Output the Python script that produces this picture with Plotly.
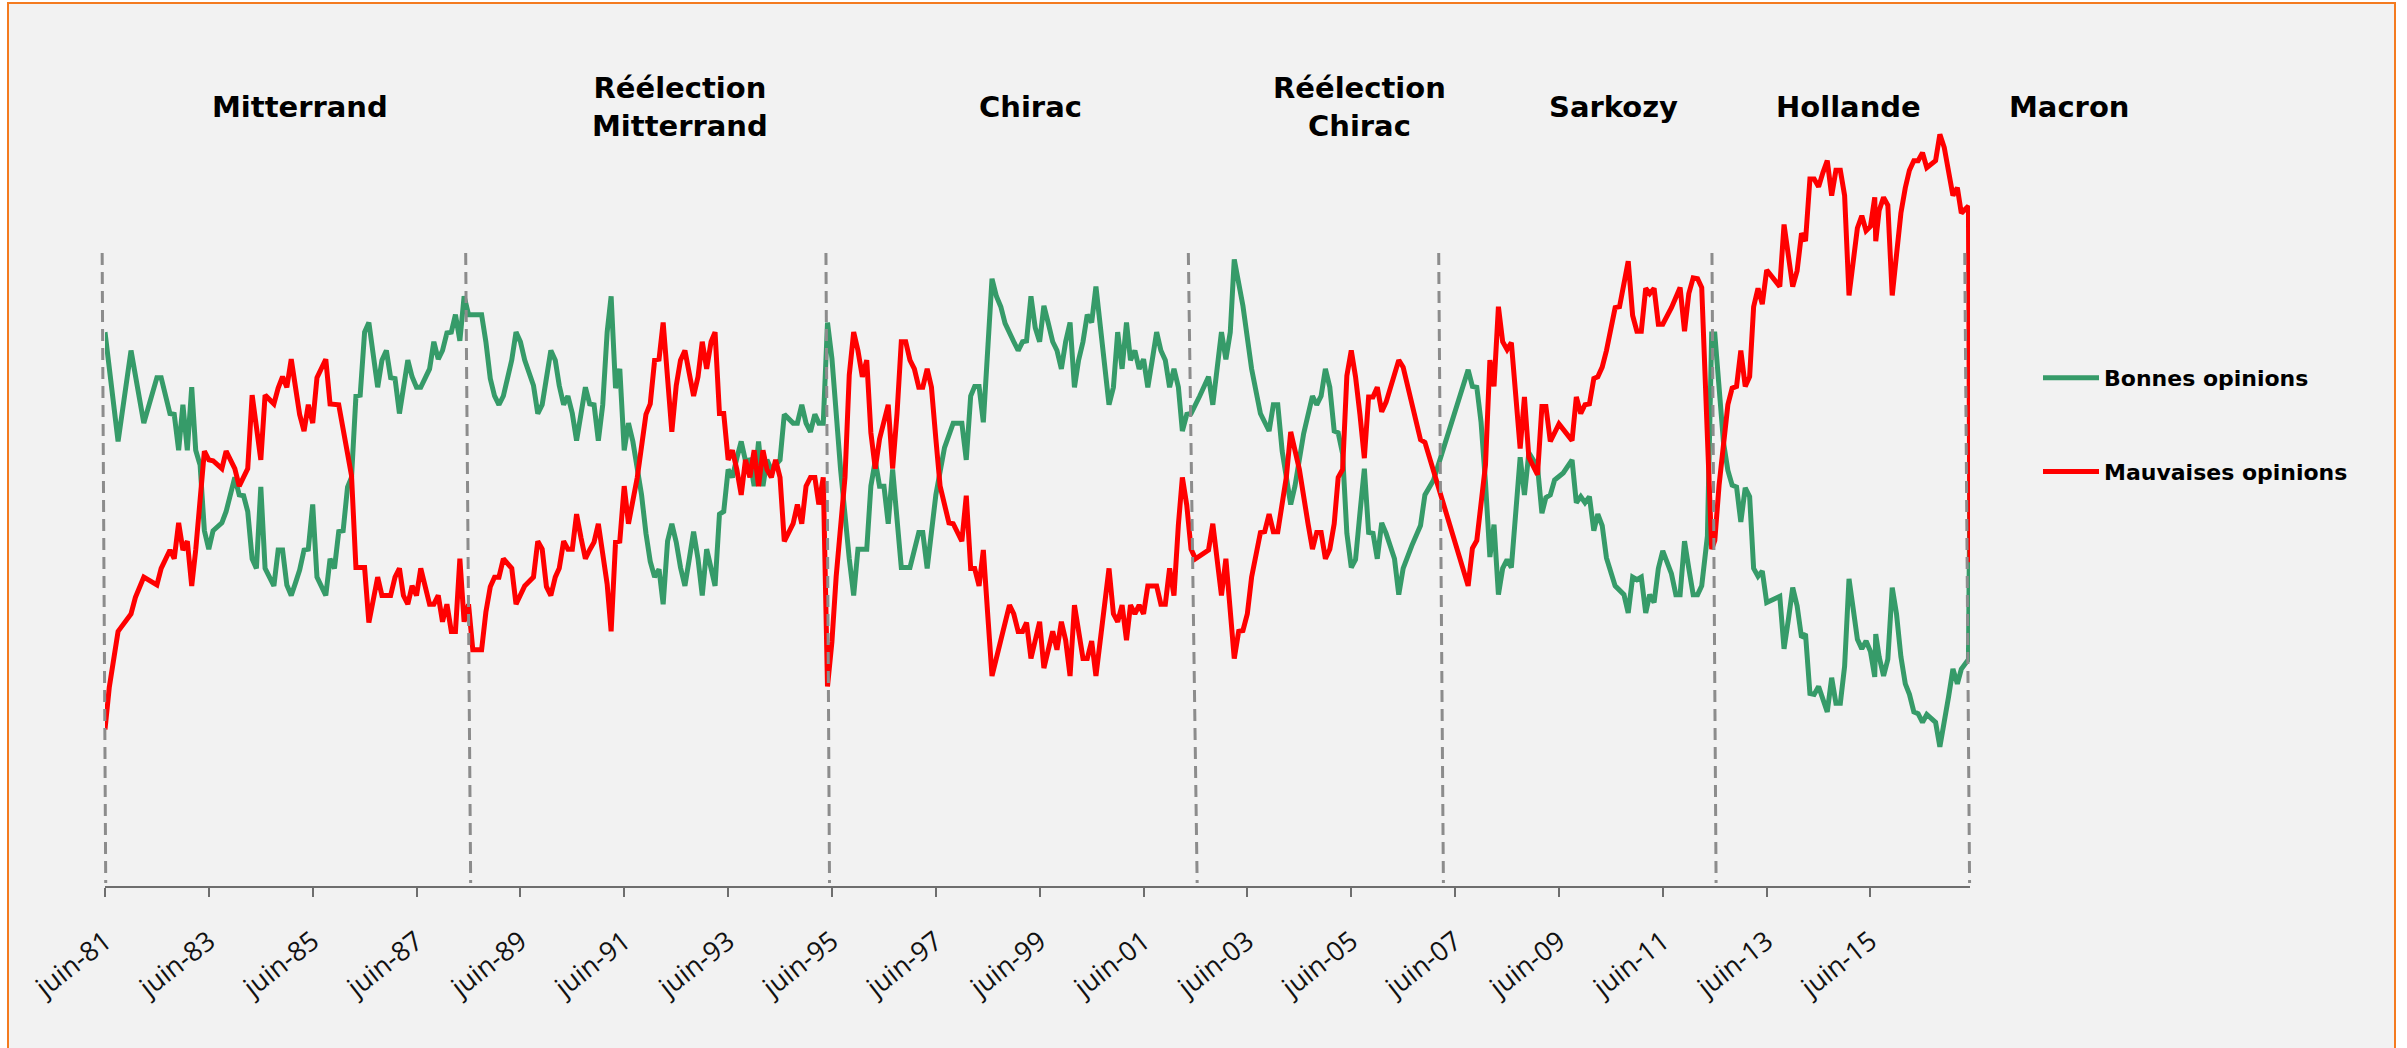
import plotly.graph_objects as go
from datetime import datetime

# ---------------- data ----------------
BONNES = [
    ("1981-06", 63.3), ("1981-09", 50.8), ("1981-12", 61.2), ("1982-03", 52.9), ("1982-06", 58.1),
    ("1982-07", 58.1), ("1982-09", 54.0), ("1982-10", 53.9), ("1982-11", 49.8), ("1982-12", 55.0),
    ("1983-01", 49.8), ("1983-02", 57.0), ("1983-03", 49.8), ("1983-04", 48.1), ("1983-05", 40.6),
    ("1983-06", 38.5), ("1983-07", 40.6), ("1983-09", 41.5), ("1983-10", 42.8), ("1983-12", 46.7),
    ("1984-01", 44.7), ("1984-02", 44.6), ("1984-03", 42.8), ("1984-04", 37.4), ("1984-05", 36.3),
    ("1984-06", 45.6), ("1984-07", 36.3), ("1984-09", 34.3), ("1984-10", 38.4), ("1984-11", 38.4),
    ("1984-12", 34.4), ("1985-01", 33.2), ("1985-02", 34.7), ("1985-03", 36.1), ("1985-04", 38.4),
    ("1985-05", 38.5), ("1985-06", 43.6), ("1985-07", 35.3), ("1985-09", 33.2), ("1985-10", 37.4),
    ("1985-11", 36.3), ("1985-12", 40.5), ("1986-01", 40.6), ("1986-02", 45.6), ("1986-03", 46.7),
    ("1986-04", 56.0), ("1986-05", 56.1), ("1986-06", 63.3), ("1986-07", 64.4), ("1986-09", 57.0),
    ("1986-10", 60.1), ("1986-11", 61.2), ("1986-12", 58.1), ("1987-01", 58.0), ("1987-02", 54.0),
    ("1987-04", 60.1), ("1987-05", 58.2), ("1987-06", 57.0), ("1987-07", 57.0), ("1987-09", 59.1),
    ("1987-10", 62.2), ("1987-11", 60.2), ("1987-12", 61.2), ("1988-01", 63.2), ("1988-02", 63.3),
    ("1988-03", 65.3), ("1988-04", 62.3), ("1988-05", 67.4), ("1988-06", 65.3), ("1988-09", 65.3),
    ("1988-10", 62.2), ("1988-11", 58.0), ("1988-12", 56.0), ("1989-01", 55.0), ("1989-02", 56.0),
    ("1989-04", 60.1), ("1989-05", 63.3), ("1989-06", 62.2), ("1989-07", 60.1), ("1989-09", 57.2),
    ("1989-10", 54.0), ("1989-11", 55.0), ("1990-01", 61.2), ("1990-02", 60.1), ("1990-03", 57.2),
    ("1990-04", 55.0), ("1990-05", 56.0), ("1990-06", 54.0), ("1990-07", 50.9), ("1990-09", 57.0),
    ("1990-10", 55.1), ("1990-11", 55.0), ("1990-12", 50.9), ("1991-01", 55.0), ("1991-02", 63.3),
    ("1991-03", 67.4), ("1991-04", 56.9), ("1991-05", 59.1), ("1991-06", 49.8), ("1991-07", 52.9),
    ("1991-08", 50.8), ("1991-09", 47.6), ("1991-10", 44.7), ("1991-11", 40.3), ("1991-12", 37.1),
    ("1992-01", 35.3), ("1992-02", 36.2), ("1992-03", 32.2), ("1992-04", 39.4), ("1992-05", 41.4),
    ("1992-06", 39.3), ("1992-07", 36.4), ("1992-08", 34.3), ("1992-09", 37.4), ("1992-10", 40.5),
    ("1992-11", 37.4), ("1992-12", 33.2), ("1993-01", 38.5), ("1993-02", 36.4), ("1993-03", 34.3),
    ("1993-04", 42.5), ("1993-05", 42.8), ("1993-06", 47.6), ("1993-07", 46.7), ("1993-08", 48.9),
    ("1993-09", 50.8), ("1993-10", 48.6), ("1993-11", 48.7), ("1993-12", 45.7), ("1994-01", 50.8),
    ("1994-02", 45.7), ("1994-03", 48.7), ("1994-04", 47.6), ("1994-06", 48.7), ("1994-07", 53.9),
    ("1994-09", 52.9), ("1994-10", 52.9), ("1994-11", 55.0), ("1994-12", 52.9), ("1995-01", 51.9),
    ("1995-02", 53.9), ("1995-03", 52.9), ("1995-04", 52.9), ("1995-05", 64.4), ("1995-06", 60.3),
    ("1995-07", 54.0), ("1995-08", 47.6), ("1995-10", 37.4), ("1995-11", 33.2), ("1995-12", 38.5),
    ("1996-02", 38.5), ("1996-03", 45.7), ("1996-04", 48.6), ("1996-05", 45.7), ("1996-06", 45.7),
    ("1996-07", 41.4), ("1996-08", 47.6), ("1996-10", 36.4), ("1996-12", 36.4), ("1997-02", 40.4),
    ("1997-03", 40.4), ("1997-04", 36.3), ("1997-06", 44.7), ("1997-08", 50.1), ("1997-10", 52.9),
    ("1997-12", 52.9), ("1998-01", 48.7), ("1998-02", 56.0), ("1998-03", 57.1), ("1998-04", 57.1),
    ("1998-05", 53.0), ("1998-07", 69.4), ("1998-08", 67.4), ("1998-09", 66.2), ("1998-10", 64.3),
    ("1998-12", 62.2), ("1999-01", 61.2), ("1999-02", 62.2), ("1999-03", 62.3), ("1999-04", 67.4),
    ("1999-05", 63.8), ("1999-06", 62.2), ("1999-07", 66.3), ("1999-08", 64.3), ("1999-09", 62.2),
    ("1999-10", 61.2), ("1999-11", 59.1), ("1999-12", 62.2), ("2000-01", 64.4), ("2000-02", 57.0),
    ("2000-03", 60.1), ("2000-04", 62.2), ("2000-05", 65.3), ("2000-06", 64.4), ("2000-07", 68.5),
    ("2000-10", 55.0), ("2000-11", 57.0), ("2000-12", 63.3), ("2001-01", 59.1), ("2001-02", 64.4),
    ("2001-03", 60.1), ("2001-04", 61.2), ("2001-05", 59.1), ("2001-06", 60.2), ("2001-07", 57.0),
    ("2001-08", 60.1), ("2001-09", 63.3), ("2001-10", 61.2), ("2001-11", 60.1), ("2001-12", 57.0),
    ("2002-01", 59.1), ("2002-02", 57.0), ("2002-03", 52.0), ("2002-04", 53.9), ("2002-05", 54.0),
    ("2002-07", 56.0), ("2002-09", 58.2), ("2002-10", 55.0), ("2002-11", 59.1), ("2002-12", 63.3),
    ("2003-01", 60.2), ("2003-02", 63.3), ("2003-03", 71.6), ("2003-04", 68.5), ("2003-05", 66.3),
    ("2003-07", 59.1), ("2003-09", 54.0), ("2003-11", 52.0), ("2003-12", 55.0), ("2004-01", 55.0),
    ("2004-02", 49.7), ("2004-04", 43.6), ("2004-05", 45.7), ("2004-07", 51.7), ("2004-09", 56.0),
    ("2004-10", 55.0), ("2004-11", 56.0), ("2004-12", 59.1), ("2005-01", 57.0), ("2005-02", 52.0),
    ("2005-03", 51.8), ("2005-04", 49.4), ("2005-05", 40.3), ("2005-06", 36.4), ("2005-07", 37.3),
    ("2005-08", 42.6), ("2005-09", 47.7), ("2005-10", 40.4), ("2005-11", 40.3), ("2005-12", 37.4),
    ("2006-01", 41.5), ("2006-02", 40.3), ("2006-03", 38.8), ("2006-04", 37.4), ("2006-05", 33.3),
    ("2006-06", 36.3), ("2006-08", 38.9), ("2006-10", 41.2), ("2006-11", 44.7), ("2007-01", 46.4),
    ("2007-09", 59.0), ("2007-10", 57.1), ("2007-11", 57.0), ("2007-12", 53.0), ("2008-01", 46.1),
    ("2008-02", 37.6), ("2008-03", 41.3), ("2008-04", 33.3), ("2008-05", 36.3), ("2008-06", 37.3),
    ("2008-07", 36.4), ("2008-09", 49.0), ("2008-10", 44.7), ("2008-11", 49.5), ("2009-01", 47.9),
    ("2009-02", 42.6), ("2009-03", 44.4), ("2009-04", 44.7), ("2009-05", 46.4), ("2009-07", 47.2),
    ("2009-09", 48.7), ("2009-10", 43.8), ("2009-11", 44.5), ("2009-12", 43.8), ("2010-01", 44.5),
    ("2010-02", 40.6), ("2010-03", 42.5), ("2010-04", 41.2), ("2010-05", 37.5), ("2010-07", 34.3),
    ("2010-09", 33.3), ("2010-10", 31.2), ("2010-11", 35.3), ("2010-12", 35.0), ("2011-01", 35.3),
    ("2011-02", 31.2), ("2011-03", 33.3), ("2011-04", 32.4), ("2011-05", 36.3), ("2011-06", 38.3),
    ("2011-08", 35.7), ("2011-09", 33.3), ("2011-10", 33.3), ("2011-11", 39.4), ("2011-12", 36.3),
    ("2012-01", 33.3), ("2012-02", 33.3), ("2012-03", 34.3), ("2012-04-10", 40.0), ("2012-05-10", 63.1),
    ("2012-06", 63.1), ("2012-07", 57.3), ("2012-08", 50.7), ("2012-09", 47.5), ("2012-10", 45.8),
    ("2012-11", 45.6), ("2012-12", 41.6), ("2013-01", 45.5), ("2013-02", 44.5), ("2013-03", 36.3),
    ("2013-04", 35.4), ("2013-05", 36.0), ("2013-06", 32.4), ("2013-09", 33.1), ("2013-10", 27.1),
    ("2013-11", 30.5), ("2013-12", 34.1), ("2014-01", 32.0), ("2014-02", 28.4), ("2014-03", 28.8),
    ("2014-04", 22.0), ("2014-05", 21.9), ("2014-06", 22.8), ("2014-08", 19.9), ("2014-09", 23.8),
    ("2014-10", 20.9), ("2014-11", 20.9), ("2014-12", 25.1), ("2015-01", 35.1), ("2015-02", 31.5),
    ("2015-03", 28.2), ("2015-04", 27.1), ("2015-05", 28.0), ("2015-06", 26.8), ("2015-07-01", 23.9),
    ("2015-07-08", 28.8), ("2015-08", 26.2), ("2015-09", 24.0), ("2015-10", 25.9), ("2015-11", 34.1),
    ("2015-12", 31.1), ("2016-01", 26.2), ("2016-02", 23.1), ("2016-03", 21.9), ("2016-04", 19.9),
    ("2016-05", 19.7), ("2016-06", 18.7), ("2016-07", 19.6), ("2016-09", 18.7), ("2016-10", 15.9),
    ("2016-11", 18.6), ("2016-12", 21.6), ("2017-01", 24.8), ("2017-02", 23.1), ("2017-03", 24.8),
    ("2017-04-20", 25.9), ("2017-05-01", 47.0),
]

MAUVAISES = [
    ("1981-06", 17.9), ("1981-07", 22.7), ("1981-09", 29.1), ("1981-12", 31.1), ("1982-01", 33.0),
    ("1982-03", 35.3), ("1982-06", 34.4), ("1982-07", 36.3), ("1982-09", 38.4), ("1982-10", 37.4),
    ("1982-11", 41.5), ("1982-12", 38.4), ("1983-01", 39.4), ("1983-02", 34.3), ("1983-03", 38.4),
    ("1983-04", 43.7), ("1983-05", 49.7), ("1983-06", 48.7), ("1983-07", 48.6), ("1983-09", 47.7),
    ("1983-10", 49.7), ("1983-12", 47.7), ("1984-01", 45.7), ("1984-03", 47.7), ("1984-04", 56.1),
    ("1984-06", 48.7), ("1984-07", 56.1), ("1984-09", 55.1), ("1984-10", 56.9), ("1984-11", 58.2),
    ("1984-12", 57.0), ("1985-01", 60.2), ("1985-03", 53.9), ("1985-04", 52.0), ("1985-05", 55.0),
    ("1985-06", 52.9), ("1985-07", 58.1), ("1985-09", 60.2), ("1985-10", 55.1), ("1985-12", 55.0),
    ("1986-02", 49.0), ("1986-03", 46.9), ("1986-04", 36.4), ("1986-06", 36.4), ("1986-07", 30.1),
    ("1986-09", 35.3), ("1986-10", 33.2), ("1986-12", 33.2), ("1987-01", 35.3), ("1987-02", 36.3),
    ("1987-03", 33.2), ("1987-04", 32.2), ("1987-05", 34.3), ("1987-06", 33.2), ("1987-07", 36.3),
    ("1987-09", 32.2), ("1987-10", 32.2), ("1987-11", 33.2), ("1987-12", 30.2), ("1988-01", 32.2),
    ("1988-02", 29.1), ("1988-03", 29.1), ("1988-04", 37.4), ("1988-05", 30.2), ("1988-06", 32.2),
    ("1988-07", 27.0), ("1988-09", 27.0), ("1988-10", 31.3), ("1988-11", 34.2), ("1988-12", 35.3),
    ("1989-01", 35.3), ("1989-02", 37.4), ("1989-04", 36.3), ("1989-05", 32.2), ("1989-07", 34.3),
    ("1989-09", 35.3), ("1989-10", 39.4), ("1989-11", 38.5), ("1989-12", 34.2), ("1990-01", 33.2),
    ("1990-02", 35.3), ("1990-03", 36.3), ("1990-04", 39.4), ("1990-05", 38.5), ("1990-06", 38.5),
    ("1990-07", 42.5), ("1990-08", 39.8), ("1990-09", 37.4), ("1990-10", 38.4), ("1990-11", 39.3),
    ("1990-12", 41.4), ("1991-02", 34.5), ("1991-03", 29.1), ("1991-04", 39.3), ("1991-05", 39.4),
    ("1991-06", 45.7), ("1991-07", 41.4), ("1991-09", 46.7), ("1991-11", 53.9), ("1991-12", 55.1),
    ("1992-01", 60.1), ("1992-02", 60.2), ("1992-03", 64.4), ("1992-04", 58.2), ("1992-05", 51.9),
    ("1992-06", 57.2), ("1992-07", 60.1), ("1992-08", 61.2), ("1992-09", 58.2), ("1992-10", 56.0),
    ("1992-11", 58.2), ("1992-12", 62.2), ("1993-01", 59.1), ("1993-02", 62.2), ("1993-03", 63.3),
    ("1993-04", 54.0), ("1993-05", 54.0), ("1993-06", 48.7), ("1993-07", 49.8), ("1993-08", 47.6),
    ("1993-09", 44.7), ("1993-10", 48.7), ("1993-11", 46.7), ("1993-12", 49.8), ("1994-01", 45.7),
    ("1994-02", 49.8), ("1994-03", 47.6), ("1994-04", 46.7), ("1994-05", 48.7), ("1994-06", 46.7),
    ("1994-07", 39.4), ("1994-09", 41.4), ("1994-10", 43.6), ("1994-11", 41.4), ("1994-12", 45.7),
    ("1995-01", 46.7), ("1995-02", 46.7), ("1995-03", 43.6), ("1995-04", 46.7), ("1995-05", 22.8),
    ("1995-06", 27.9), ("1995-07", 35.4), ("1995-09", 46.7), ("1995-10", 58.4), ("1995-11", 63.3),
    ("1995-12", 61.2), ("1996-01", 58.2), ("1996-02", 60.1), ("1996-03", 51.8), ("1996-04", 47.7),
    ("1996-05", 51.1), ("1996-07", 55.0), ("1996-08", 47.7), ("1996-09", 54.0), ("1996-10", 62.2),
    ("1996-11", 62.2), ("1996-12", 60.1), ("1997-01", 59.1), ("1997-02", 57.0), ("1997-03", 57.0),
    ("1997-04", 59.1), ("1997-05", 57.0), ("1997-06", 51.1), ("1997-07", 45.7), ("1997-09", 41.5),
    ("1997-10", 41.4), ("1997-12", 39.4), ("1998-01", 44.6), ("1998-02", 36.3), ("1998-03", 36.3),
    ("1998-04", 34.3), ("1998-05", 38.4), ("1998-06", 31.0), ("1998-07", 24.0), ("1998-09", 28.1),
    ("1998-11", 32.1), ("1998-12", 31.1), ("1999-01", 29.1), ("1999-02", 29.1), ("1999-03", 30.1),
    ("1999-04", 26.0), ("1999-05", 28.1), ("1999-06", 30.2), ("1999-07", 24.9), ("1999-08", 27.0),
    ("1999-09", 29.1), ("1999-10", 27.0), ("1999-11", 30.2), ("1999-12", 28.1), ("2000-01", 24.0),
    ("2000-02", 32.1), ("2000-04", 26.0), ("2000-05", 26.0), ("2000-06", 28.0), ("2000-07", 24.0),
    ("2000-09", 32.0), ("2000-10", 36.3), ("2000-11", 31.1), ("2000-12", 30.2), ("2001-01", 32.1),
    ("2001-02", 28.1), ("2001-03", 32.1), ("2001-04", 31.1), ("2001-05", 32.1), ("2001-06", 31.1),
    ("2001-07", 34.3), ("2001-09", 34.3), ("2001-10", 32.2), ("2001-11", 32.2), ("2001-12", 36.3),
    ("2002-01", 33.2), ("2002-02", 41.3), ("2002-03", 46.7), ("2002-04", 43.5), ("2002-05", 38.5),
    ("2002-06", 37.4), ("2002-09", 38.4), ("2002-10", 41.4), ("2002-11", 37.4), ("2002-12", 33.2),
    ("2003-01", 37.4), ("2003-03", 26.0), ("2003-04", 29.1), ("2003-05", 29.2), ("2003-06", 31.1),
    ("2003-07", 35.3), ("2003-09", 40.4), ("2003-10", 40.5), ("2003-11", 42.5), ("2003-12", 40.5),
    ("2004-01", 40.5), ("2004-03", 46.7), ("2004-04", 51.9), ("2004-06", 47.6), ("2004-08", 41.4),
    ("2004-09", 38.5), ("2004-10", 40.4), ("2004-11", 40.4), ("2004-12", 37.4), ("2005-01", 38.5),
    ("2005-02", 41.4), ("2005-03", 46.7), ("2005-04", 47.6), ("2005-05", 58.3), ("2005-06", 61.2),
    ("2005-07", 58.2), ("2005-08", 53.9), ("2005-09", 48.9), ("2005-10", 55.9), ("2005-11", 55.9),
    ("2005-12", 57.0), ("2006-01", 54.2), ("2006-02", 55.3), ("2006-03", 56.9), ("2006-05", 60.1),
    ("2006-06", 59.3), ("2006-10", 51.0), ("2006-11", 50.7), ("2007-09", 34.3), ("2007-10", 38.6),
    ("2007-11", 39.5), ("2008-01", 48.1), ("2008-02", 60.1), ("2008-03", 57.1), ("2008-04", 66.2),
    ("2008-05", 62.2), ("2008-06", 61.3), ("2008-07", 62.1), ("2008-09", 50.0), ("2008-10", 55.9),
    ("2008-11", 49.0), ("2009-01", 47.0), ("2009-02", 54.8), ("2009-03", 54.8), ("2009-04", 50.8),
    ("2009-06", 52.8), ("2009-09", 50.9), ("2009-10", 55.9), ("2009-11", 54.0), ("2009-12", 55.0),
    ("2010-01", 55.1), ("2010-02", 58.0), ("2010-03", 58.2), ("2010-04", 59.3), ("2010-05", 61.2),
    ("2010-07", 66.1), ("2010-08", 66.2), ("2010-10", 71.4), ("2010-11", 65.2), ("2010-12", 63.4),
    ("2011-01", 63.4), ("2011-02", 68.3), ("2011-03", 67.7), ("2011-04", 68.3), ("2011-05", 64.2),
    ("2011-06", 64.2), ("2011-08", 66.1), ("2011-10", 68.4), ("2011-11", 63.4), ("2011-12", 67.7),
    ("2012-01", 69.5), ("2012-02", 69.4), ("2012-03", 68.4), ("2012-05-10", 38.5), ("2012-06", 39.5),
    ("2012-07", 45.8), ("2012-08", 51.0), ("2012-09", 55.0), ("2012-10", 56.9), ("2012-11", 57.1),
    ("2012-12", 61.2), ("2013-01", 57.1), ("2013-02", 58.2), ("2013-03", 66.2), ("2013-04", 68.3),
    ("2013-05", 66.5), ("2013-06", 70.4), ("2013-08", 69.1), ("2013-09", 68.5), ("2013-10", 75.6),
    ("2013-11", 72.0), ("2013-12", 68.5), ("2014-01", 70.3), ("2014-02", 74.6), ("2014-03", 73.7),
    ("2014-04", 80.8), ("2014-05", 80.8), ("2014-06", 79.9), ("2014-07", 81.5), ("2014-08", 82.9),
    ("2014-09", 78.9), ("2014-10", 81.8), ("2014-11", 81.8), ("2014-12", 78.9), ("2015-01", 67.5),
    ("2015-02", 72.0), ("2015-03", 75.2), ("2015-04", 76.6), ("2015-05", 74.9), ("2015-06", 75.4),
    ("2015-07-01", 78.7), ("2015-07-08", 73.7), ("2015-08", 77.2), ("2015-09", 78.7), ("2015-10", 77.8),
    ("2015-11", 67.5), ("2015-12", 72.0), ("2016-01", 76.9), ("2016-02", 79.8), ("2016-03", 81.8),
    ("2016-04", 82.9), ("2016-05", 82.9), ("2016-06", 83.8), ("2016-07", 82.1), ("2016-09", 82.9),
    ("2016-10", 85.9), ("2016-11", 84.4), ("2016-12", 81.8), ("2017-01", 78.9), ("2017-02", 79.8),
    ("2017-03", 76.9), ("2017-04-20", 77.7), ("2017-05-01", 37.0),
]

TICK_DATES = ["1981-06-01", "1983-06-01", "1985-06-01", "1987-06-01", "1989-06-01", "1991-06-01",
              "1993-06-01", "1995-06-01", "1997-06-01", "1999-06-01", "2001-06-01", "2003-06-01",
              "2005-06-01", "2007-06-01", "2009-06-01", "2011-06-01", "2013-06-01", "2015-06-01"]
TICK_LABELS = ["juin-81", "juin-83", "juin-85", "juin-87", "juin-89", "juin-91", "juin-93", "juin-95",
               "juin-97", "juin-99", "juin-01", "juin-03", "juin-05", "juin-07", "juin-09", "juin-11",
               "juin-13", "juin-15"]

PERIOD_NAMES = ["Mitterrand", "Réélection<br>Mitterrand", "Chirac", "Réélection<br>Chirac",
                "Sarkozy", "Hollande", "Macron"]

# separators between presidencies (top date, bottom date) - drawn slightly slanted like the source
DIVIDERS = [("1981-05-12", "1981-06-06"), ("1988-05-12", "1988-06-16"), ("1995-04-20", "1995-05-15"),
            ("2002-04-12", "2002-06-13"), ("2007-02-06", "2007-03-11"), ("2012-05-12", "2012-06-10"),
            ("2017-03-25", "2017-04-28")]

X_START, X_END = "1981-06-01", "2017-05-01"

# ---------------- layout constants ----------------
W, H = 2407, 1048
ML, MR, MT, MB = 105, 437, 11, 162
PW, PH = W - ML - MR, H - MT - MB
GREEN, RED = "#369B69", "#FF0000"
BG = "#F2F2F2"
ORANGE = "#F47B20"

T0 = datetime.fromisoformat(X_START)
T1 = datetime.fromisoformat(X_END)


def date_to_paper(d):
    t = datetime.fromisoformat(d)
    return (t - T0).total_seconds() / (T1 - T0).total_seconds()


def px_to_paper_x(px):
    return (px - ML) / PW


def px_to_paper_y(py):
    return (H - MB - py) / PH


fig = go.Figure()
fig.add_trace(go.Scatter(
    x=[d for d, _ in BONNES], y=[v for _, v in BONNES], mode="lines",
    name="Bonnes opinions", legendgroup="b",
    line=dict(color=GREEN, width=5), hoverinfo="x+y"))
fig.add_trace(go.Scatter(
    x=[d for d, _ in MAUVAISES], y=[v for _, v in MAUVAISES], mode="lines",
    name="Mauvaises opinions", legendgroup="m",
    line=dict(color=RED, width=5), hoverinfo="x+y"))

shapes = [dict(type="rect", xref="paper", yref="paper", layer="below",
               x0=px_to_paper_x(8), x1=px_to_paper_x(2395),
               y0=px_to_paper_y(1075), y1=px_to_paper_y(3),
               fillcolor=BG, line=dict(color=ORANGE, width=2))]
for top, bottom in DIVIDERS:
    shapes.append(dict(type="line", xref="paper", yref="paper", layer="above",
                       x0=date_to_paper(top), y0=px_to_paper_y(253),
                       x1=date_to_paper(bottom), y1=px_to_paper_y(883),
                       line=dict(color="#8C8C8C", width=3, dash="12px,7px")))

title_px = [300, 680, 1030, 1359, 1613, 1848, 2069]
annotations = []
for name, px in zip(PERIOD_NAMES, title_px):
    annotations.append(dict(
        text=name, xref="paper", yref="paper", x=px_to_paper_x(px), y=px_to_paper_y(107),
        xanchor="center", yanchor="middle", showarrow=False, align="center",
        font=dict(family="DejaVu Sans", size=29, color="#000000", weight="bold")))

fig.update_layout(
    width=W, height=H, autosize=False,
    template="none",
    paper_bgcolor="#FFFFFF", plot_bgcolor="rgba(0,0,0,0)",
    margin=dict(l=ML, r=MR, t=MT, b=MB, pad=0),
    shapes=shapes, annotations=annotations,
    showlegend=True,
    legend=dict(x=px_to_paper_x(2038), y=px_to_paper_y(357), xanchor="left", yanchor="top",
                bgcolor="rgba(0,0,0,0)", borderwidth=0, traceorder="grouped", tracegroupgap=62,
                itemwidth=56,
                font=dict(family="DejaVu Sans", size=22, color="#000000", weight="bold")),
    xaxis=dict(type="date", range=[X_START, X_END], automargin=False,
               showgrid=False, zeroline=False,
               showline=True, linecolor="#6E6E6E", linewidth=2,
               ticks="outside", ticklen=9, tickwidth=1.5, tickcolor="#6E6E6E",
               tickvals=TICK_DATES, ticktext=TICK_LABELS, tickangle=-38,
               ticklabelstandoff=18,
               tickfont=dict(family="Open Sans", size=27, color="#111111")),
    yaxis=dict(range=[0, 100], visible=False, showgrid=False, zeroline=False, automargin=False),
)

fig.write_html("out.html", config={"displayModeBar": False},
               post_script="document.body.style.margin='0px';")
